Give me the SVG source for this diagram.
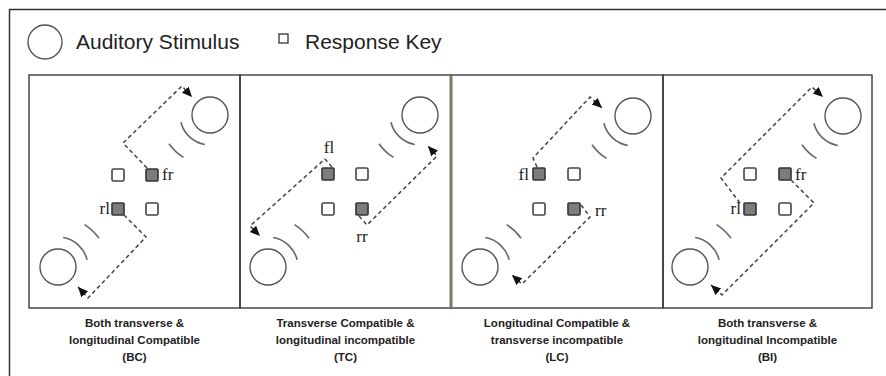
<svg xmlns="http://www.w3.org/2000/svg" width="886" height="376" viewBox="0 0 886 376">
<style>
.frame{fill:none;stroke:#333;stroke-width:1.5}
.panel{fill:none;stroke:#3a3a3a;stroke-width:1.4}
.stim{fill:none;stroke:#555;stroke-width:1.4}
.wave{fill:none;stroke:#666;stroke-width:1.6}
.open{fill:#fff;stroke:#444;stroke-width:1.6}
.filled{fill:#7c7c7c;stroke:#333;stroke-width:1.6}
.dash{fill:none;stroke:#444;stroke-width:1.5;stroke-dasharray:4 3;marker-end:url(#ah)}
.lbl{font-family:"Liberation Sans",Arial,sans-serif;font-size:21px;fill:#222}
.key{font-family:"Liberation Serif","Times New Roman",serif;font-size:17px;fill:#222}
.cap{font-family:"Liberation Sans",Arial,sans-serif;font-size:11.5px;font-weight:bold;fill:#222;text-anchor:middle}
</style>
<defs>
<marker id="ah" markerUnits="userSpaceOnUse" markerWidth="12" markerHeight="10" refX="10" refY="4.5" orient="auto">
<path d="M0,0 L10,4.5 L0,9 z" fill="#111"/>
</marker>
</defs>
<rect width="886" height="376" fill="#fff"/>
<path class="frame" d="M9.5,376 V9.5 H886"/>

<g id="legend">
<circle class="stim" cx="45" cy="42" r="17"/>
<text class="lbl" x="76" y="49">Auditory Stimulus</text>
<rect x="279" y="34" width="9" height="9" fill="#fff" stroke="#333" stroke-width="1.3"/>
<text class="lbl" x="305" y="49">Response Key</text>
</g>

<g id="panel-BC">
<rect class="panel" x="29" y="75" width="211" height="233"/>
<circle class="stim" cx="210" cy="115" r="18"/>
<path class="wave" d="M180.9,122.3 A30,30 0 0 0 204.8,144.5"/>
<path class="wave" d="M169,143.7 A50,50 0 0 0 183.5,157.4"/>
<circle class="stim" cx="58" cy="267" r="18"/>
<path class="wave" d="M63.2,237.5 A30,30 0 0 1 87.1,259.7"/>
<path class="wave" d="M84.5,224.6 A50,50 0 0 1 99,238.3"/>
<rect class="open" x="112" y="169" width="12" height="12" rx="1.5"/>
<rect class="filled" x="146" y="169" width="12" height="12" rx="1"/>
<rect class="filled" x="112" y="203" width="12" height="12" rx="1"/>
<rect class="open" x="146" y="203" width="12" height="12" rx="1.5"/>
<text class="key" x="162" y="180">fr</text>
<text class="key" x="110" y="214" text-anchor="end">rl</text>
<text class="cap" x="134.5" y="327">Both transverse &amp;</text>
<text class="cap" x="134.5" y="344">longitudinal Compatible</text>
<text class="cap" x="134.5" y="361">(BC)</text>
</g>

<g id="panel-TC">
<rect class="panel" x="240" y="75" width="211" height="233"/>
<circle class="stim" cx="420" cy="115" r="18"/>
<path class="wave" d="M390.9,122.3 A30,30 0 0 0 414.8,144.5"/>
<path class="wave" d="M379,143.7 A50,50 0 0 0 393.5,157.4"/>
<circle class="stim" cx="268" cy="267" r="18"/>
<path class="wave" d="M273.2,237.5 A30,30 0 0 1 297.1,259.7"/>
<path class="wave" d="M294.5,224.6 A50,50 0 0 1 309,238.3"/>
<rect class="filled" x="322" y="168" width="12" height="12" rx="1"/>
<rect class="open" x="356" y="168" width="12" height="12" rx="1.5"/>
<rect class="open" x="322" y="203" width="12" height="12" rx="1.5"/>
<rect class="filled" x="356" y="203" width="12" height="12" rx="1"/>
<text class="key" x="329" y="153" text-anchor="middle">fl</text>
<text class="key" x="362" y="242" text-anchor="middle">rr</text>
<text class="cap" x="345.5" y="327">Transverse Compatible &amp;</text>
<text class="cap" x="345.5" y="344">longitudinal incompatible</text>
<text class="cap" x="345.5" y="361">(TC)</text>
</g>

<g id="panel-LC">
<rect class="panel" x="451" y="75" width="212" height="233"/>
<line x1="451" y1="75" x2="451" y2="308" stroke="#77776a" stroke-width="3"/>
<circle class="stim" cx="633" cy="116" r="18"/>
<path class="wave" d="M603.9,123.3 A30,30 0 0 0 627.8,145.5"/>
<path class="wave" d="M592,144.7 A50,50 0 0 0 606.5,158.4"/>
<circle class="stim" cx="480" cy="267" r="18"/>
<path class="wave" d="M485.2,237.5 A30,30 0 0 1 509.1,259.7"/>
<path class="wave" d="M506.5,224.6 A50,50 0 0 1 521,238.3"/>
<rect class="filled" x="533" y="168" width="12" height="12" rx="1"/>
<rect class="open" x="568" y="168" width="12" height="12" rx="1.5"/>
<rect class="open" x="533" y="203" width="12" height="12" rx="1.5"/>
<rect class="filled" x="568" y="203" width="12" height="12" rx="1"/>
<text class="key" x="529" y="180" text-anchor="end">fl</text>
<text class="key" x="595" y="216">rr</text>
<text class="cap" x="557" y="327">Longitudinal Compatible &amp;</text>
<text class="cap" x="557" y="344">transverse incompatible</text>
<text class="cap" x="557" y="361">(LC)</text>
</g>

<g id="panel-BI">
<rect class="panel" x="663" y="75" width="209" height="233"/>
<circle class="stim" cx="843" cy="116" r="18"/>
<path class="wave" d="M813.9,123.3 A30,30 0 0 0 837.8,145.5"/>
<path class="wave" d="M802,144.7 A50,50 0 0 0 816.5,158.4"/>
<circle class="stim" cx="690" cy="267" r="18"/>
<path class="wave" d="M695.2,237.5 A30,30 0 0 1 719.1,259.7"/>
<path class="wave" d="M716.5,224.6 A50,50 0 0 1 731,238.3"/>
<rect class="open" x="744" y="168" width="12" height="12" rx="1.5"/>
<rect class="filled" x="779" y="168" width="12" height="12" rx="1"/>
<rect class="filled" x="744" y="203" width="12" height="12" rx="1"/>
<rect class="open" x="779" y="203" width="12" height="12" rx="1.5"/>
<text class="key" x="795" y="180">fr</text>
<text class="key" x="741" y="214" text-anchor="end">rl</text>
<text class="cap" x="767.5" y="327">Both transverse &amp;</text>
<text class="cap" x="767.5" y="344">longitudinal Incompatible</text>
<text class="cap" x="767.5" y="361">(BI)</text>
</g>

<g id="connectors">
<path class="dash" d="M147,168 L123,143 L182,86 L192,97"/>
<path class="dash" d="M124,215 L146,237 L88,298 L78,287"/>
<path class="dash" d="M332,167 L325,159 L250,226 L260,236"/>
<path class="dash" d="M359,216 L367,225 L437,156 L428,146"/>
<path class="dash" d="M537,167 L533,158 L590,97 L602,108"/>
<path class="dash" d="M581,205 L590,217 L522,284 L512,275"/>
<path class="dash" d="M740,203 L721,178 L812,87 L823,97"/>
<path class="dash" d="M791,180 L814,203 L722,295 L711,285"/>
</g>
</svg>
